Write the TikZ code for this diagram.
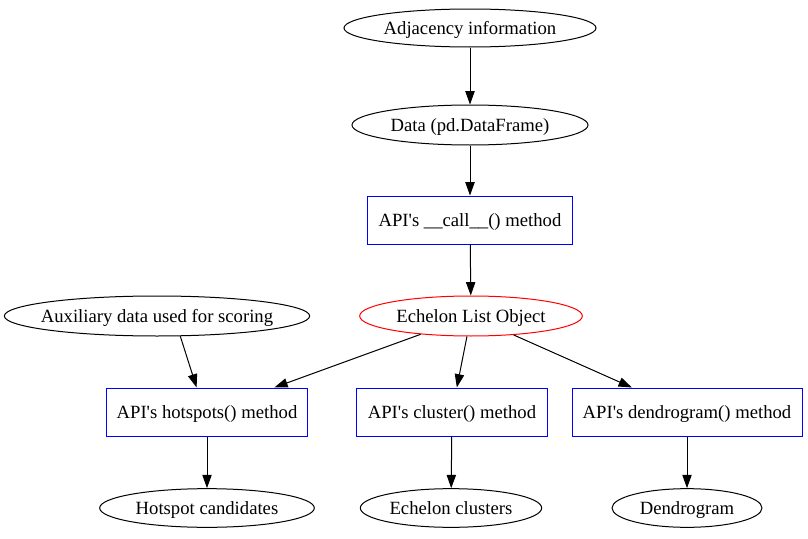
\documentclass[tikz,border=0pt]{standalone}
\usepackage{fontspec}
\usepackage{tikz}
\usetikzlibrary{arrows.meta,shapes.geometric}
\newfontfamily\gvfont{Liberation Serif}
\definecolor{boxblue}{RGB}{0,0,255}
\definecolor{listred}{RGB}{255,0,0}

\begin{document}
\begin{tikzpicture}[
  x=0.75pt, y=-0.75pt,
  every node/.style={font=\gvfont\fontsize{14}{16}\selectfont, text centered, inner sep=0pt,
    text height=13pt, text depth=3pt},
  oval/.style={ellipse, draw=black, line width=0.75pt, inner xsep=-40pt},
  apibox/.style={rectangle, draw=boxblue, line width=0.75pt, minimum height=36pt},
  arrow/.style={-{Triangle[length=10pt, width=7pt]}, line width=0.75pt, black}
]
\useasboundingbox (0,0) rectangle (808,539);

% Input chain
\node[oval, minimum width=189pt, minimum height=28.5pt] (adjacency) at (470, 28) {Adjacency information};
\node[oval, minimum width=177pt, minimum height=30pt] (data) at (470, 125) {Data (pd.DataFrame)};
\node[apibox, minimum width=154pt] (call) at (470, 220) {API's \_\_call\_\_() method};

% Echelon list and auxiliary input
\node[oval, draw=listred, minimum width=167pt, minimum height=30pt] (echelon) at (471, 316) {Echelon List Object};
\node[oval, minimum width=229pt, minimum height=30pt] (auxiliary) at (157, 316) {Auxiliary data used for scoring};

% API methods
\node[apibox, minimum width=151pt] (hotspots) at (207, 412) {API's hotspots() method};
\node[apibox, minimum width=143pt] (cluster) at (452, 412) {API's cluster() method};
\node[apibox, minimum width=172.5pt] (dendro) at (687, 412) {API's dendrogram() method};

% Outputs
\node[oval, minimum width=161pt, minimum height=29pt] (candidates) at (207, 508) {Hotspot candidates};
\node[oval, minimum width=136pt, minimum height=29pt] (clusters) at (451, 508) {Echelon clusters};
\node[oval, minimum width=112.5pt, minimum height=29pt] (dendrogram) at (687, 508) {Dendrogram};

% Connectors
\draw[arrow] (adjacency) -- (data);
\draw[arrow] (data) -- (call);
\draw[arrow] (call) -- (echelon);
\draw[arrow] (auxiliary.-41) -- (hotspots.113);
\draw[arrow] (echelon) -- (hotspots);
\draw[arrow] (echelon) -- (cluster);
\draw[arrow] (echelon) -- (dendro);
\draw[arrow] (hotspots) -- (candidates);
\draw[arrow] (cluster) -- (clusters);
\draw[arrow] (dendro) -- (dendrogram);

\end{tikzpicture}
\end{document}
